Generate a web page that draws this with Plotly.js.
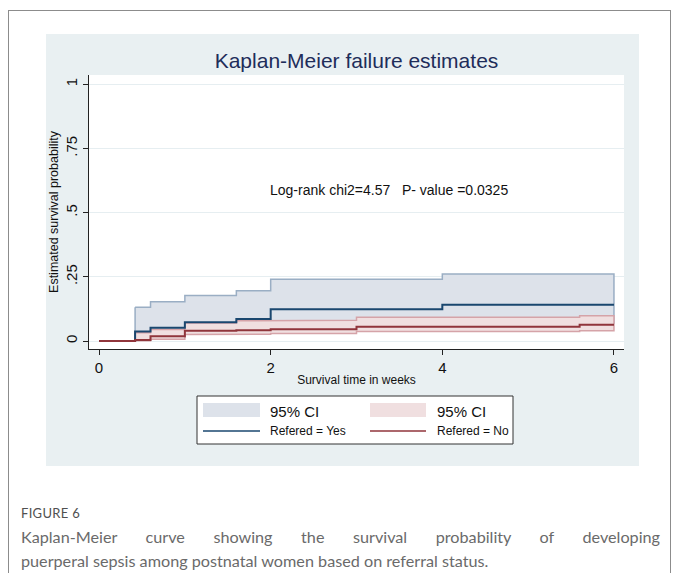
<!DOCTYPE html>
<html>
<head>
<meta charset="utf-8">
<script src="https://cdn.plot.ly/plotly-3.0.1.min.js"></script>
<style>
  html, body { margin:0; padding:0; width:680px; height:573px; overflow:hidden; background:#ffffff; }
  #frame { position:absolute; left:8px; top:10px; width:663px; height:640px; border:1.5px solid #8c8c8c; border-bottom:none; box-sizing:border-box; }
  #panel { position:absolute; left:46px; top:34px; width:593px; height:432px; background:#e9f0f2; }
  #chart { position:absolute; left:0; top:0; width:680px; height:573px; }
  #figlabel { position:absolute; left:21px; top:505px; font-family:"Lato","Open Sans",sans-serif; font-size:13px; color:#505050; letter-spacing:0.3px; }
  .cap { position:absolute; left:21px; width:639px; font-family:"Lato","Open Sans",sans-serif; font-size:16.2px; color:#6a6a6a; white-space:nowrap; }
  #cap1 { top:527px; text-align:justify; text-align-last:justify; white-space:normal; }
  #cap2 { top:551px; }
</style>
</head>
<body>
<div id="frame"></div>
<div id="panel"></div>
<div id="chart"></div>
<div id="figlabel">FIGURE 6</div>
<div class="cap" id="cap1">Kaplan-Meier curve showing the survival probability of developing</div>
<div class="cap" id="cap2">puerperal sepsis among postnatal women based on referral status.</div>
<script>
// ---------------- DATA ----------------
const tEnd = 6;
// Refered = Yes (failure estimates)
const timesYes = [0, 0.42, 0.6, 1, 1.6, 2, 4];
const failYes  = [0, 0.037, 0.052, 0.073, 0.086, 0.124, 0.142];
const ciTimesYes = [0.42, 0.6, 1, 1.6, 2, 4];
const loYes = [0.008, 0.015, 0.032, 0.040, 0.058, 0.070];
const hiYes = [0.132, 0.153, 0.178, 0.196, 0.241, 0.261];
// Refered = No
const timesNo = [0, 0.42, 0.6, 1, 1.6, 2, 3, 5.6];
const failNo  = [0, 0.004, 0.019, 0.040, 0.042, 0.046, 0.056, 0.064];
const ciTimesNo = [0.42, 0.6, 1, 1.6, 2, 3, 5.6];
const loNo = [0.001, 0.007, 0.026, 0.027, 0.030, 0.037, 0.040];
const hiNo = [0.032, 0.045, 0.070, 0.079, 0.081, 0.093, 0.099];

const xTicks = [0, 2, 4, 6];
const yTicks = [0, 0.25, 0.5, 0.75, 1];
const yTickText = ['0', '.25', '.5', '.75', '1'];
const legendLabels = ['95% CI', '95% CI', 'Refered = Yes', 'Refered = No'];
const titleText = 'Kaplan-Meier failure estimates';
const xTitle = 'Survival time in weeks';
const yTitle = 'Estimated survival probability';
const testText = 'Log-rank chi2=4.57\u00a0\u00a0\u00a0P- value =0.0325';
const testPos = [1.97, 0.588];

// ---------------- STYLE ----------------
const navy = '#1a476f', maroon = '#90353b';
const grayFill = '#dde2ea', grayLine = '#9aaec4';
const pinkFill = '#f0dfe0', pinkLine = '#d5a3a8';

function stepPts(t, v, end) {
  const x = [], y = [];
  for (let i = 0; i < t.length; i++) {
    const next = (i + 1 < t.length) ? t[i + 1] : end;
    x.push(t[i], next); y.push(v[i], v[i]);
  }
  return {x, y};
}
function band(t, lo, hi, end) {
  const u = stepPts(t, hi, end), l = stepPts(t, lo, end);
  return { x: u.x.concat(l.x.slice().reverse()).concat([u.x[0]]),
           y: u.y.concat(l.y.slice().reverse()).concat([u.y[0]]) };
}
const bYes = band(ciTimesYes, loYes, hiYes, tEnd);
const bNo = band(ciTimesNo, loNo, hiNo, tEnd);

const traces = [
  {x: bYes.x, y: bYes.y, mode: 'lines', fill: 'toself', fillcolor: grayFill,
   line: {color: grayLine, width: 1.5}, hoverinfo: 'skip', showlegend: false},
  {x: bNo.x, y: bNo.y, mode: 'lines', fill: 'toself', fillcolor: pinkFill,
   line: {color: pinkLine, width: 1.5}, hoverinfo: 'skip', showlegend: false},
  {x: timesYes.concat([tEnd]), y: failYes.concat([failYes[failYes.length-1]]), mode: 'lines',
   line: {color: navy, width: 2, shape: 'hv'}, showlegend: false},
  {x: timesNo.concat([tEnd]), y: failNo.concat([failNo[failNo.length-1]]), mode: 'lines',
   line: {color: maroon, width: 2, shape: 'hv'}, showlegend: false}
];

// plot area in pixels: x 89..624, y 75..349
const L = 89, R = 624, T = 75, B = 349;
const px = v => (v - L) / (R - L);
const py = v => (B - v) / (B - T);

const shapes = [
  {type: 'rect', xref: 'paper', yref: 'paper', x0: px(197), x1: px(513), y0: py(444), y1: py(396),
   line: {color: '#333', width: 1}, fillcolor: '#ffffff'},
  {type: 'rect', xref: 'paper', yref: 'paper', x0: px(203), x1: px(260), y0: py(417), y1: py(403),
   line: {width: 0}, fillcolor: grayFill},
  {type: 'rect', xref: 'paper', yref: 'paper', x0: px(370), x1: px(426), y0: py(417), y1: py(403),
   line: {width: 0}, fillcolor: pinkFill},
  {type: 'line', xref: 'paper', yref: 'paper', x0: px(203), x1: px(260), y0: py(431), y1: py(431),
   line: {color: navy, width: 1.5}},
  {type: 'line', xref: 'paper', yref: 'paper', x0: px(370), x1: px(426), y0: py(431), y1: py(431),
   line: {color: maroon, width: 1.5}}
];

const fnt = '"Liberation Sans", Arial, Helvetica, sans-serif';
const annotations = [
  {xref: 'x', yref: 'y', x: testPos[0], y: testPos[1], text: testText, showarrow: false,
   xanchor: 'left', yanchor: 'middle', font: {family: fnt, size: 14, color: '#111'}},
  {xref: 'paper', yref: 'paper', x: px(268), y: py(411), text: legendLabels[0], showarrow: false,
   xanchor: 'left', yanchor: 'middle', font: {family: fnt, size: 15, color: '#111'}},
  {xref: 'paper', yref: 'paper', x: px(435), y: py(411), text: legendLabels[1], showarrow: false,
   xanchor: 'left', yanchor: 'middle', font: {family: fnt, size: 15, color: '#111'}},
  {xref: 'paper', yref: 'paper', x: px(268), y: py(431), text: legendLabels[2], showarrow: false,
   xanchor: 'left', yanchor: 'middle', font: {family: fnt, size: 12, color: '#111'}},
  {xref: 'paper', yref: 'paper', x: px(435), y: py(431), text: legendLabels[3], showarrow: false,
   xanchor: 'left', yanchor: 'middle', font: {family: fnt, size: 12, color: '#111'}}
];

const layout = {
  width: 680, height: 573,
  margin: {l: L, r: 680 - R, t: T, b: 573 - B, pad: 0},
  paper_bgcolor: 'rgba(0,0,0,0)',
  plot_bgcolor: '#ffffff',
  font: {family: fnt, color: '#111'},
  showlegend: false,
  title: {text: titleText, x: 0.5, xref: 'paper', xanchor: 'center', y: 1 - 61/573, yref: 'container', yanchor: 'middle',
          font: {family: fnt, size: 21, color: '#1e2d5a'}},
  xaxis: {range: [-0.117, 6.117], tickvals: xTicks, ticktext: xTicks.map(String), ticks: 'outside', ticklen: 5,
          tickcolor: '#222', tickwidth: 1, showline: true, linecolor: '#222', linewidth: 1, showgrid: false,
          zeroline: false, tickfont: {family: fnt, size: 15, color: '#111'},
          title: {text: xTitle, font: {family: fnt, size: 12, color: '#111'}, standoff: 0}},
  yaxis: {range: [-0.0308, 1.0362], tickvals: yTicks, ticktext: yTickText, tickangle: -90, ticks: 'outside', ticklen: 5,
          tickcolor: '#222', tickwidth: 1, showline: true, linecolor: '#222', linewidth: 1, showgrid: true,
          gridcolor: '#e6eef1', gridwidth: 1, zeroline: false, tickfont: {family: fnt, size: 15, color: '#111'},
          title: {text: yTitle, font: {family: fnt, size: 12.5, color: '#111'}, standoff: 1}},
  shapes: shapes,
  annotations: annotations
};

Plotly.newPlot('chart', traces, layout, {staticPlot: true, displayModeBar: false});
</script>
</body>
</html>
